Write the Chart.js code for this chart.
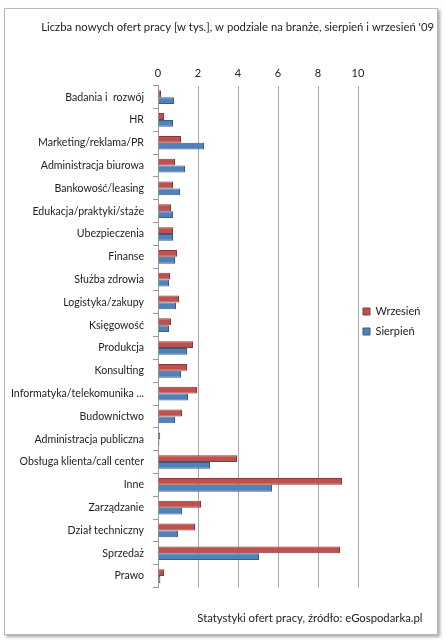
<!DOCTYPE html>
<html>
<head>
<meta charset="utf-8">
<script src="https://cdn.jsdelivr.net/npm/chart.js@4"></script>
<style>
  body { margin: 0; background: #fff; }
  .box {
    position: absolute; left: 4px; top: 8px; width: 432px; height: 625px;
    border: 1px solid #b8b8b8; background: #fff;
    box-shadow: 2px 2px 3px rgba(0,0,0,0.35);
  }
  canvas { display: block; }
</style>
</head>
<body>
<div class="box"><canvas id="chart" width="432" height="625"></canvas></div>
<script>
// categories (top to bottom)
const categories = [
  'Badania i  rozwój', 'HR', 'Marketing/reklama/PR', 'Administracja biurowa',
  'Bankowość/leasing', 'Edukacja/praktyki/staże', 'Ubezpieczenia', 'Finanse',
  'Służba zdrowia', 'Logistyka/zakupy', 'Księgowość', 'Produkcja', 'Konsulting',
  'Informatyka/telekomunika ...', 'Budownictwo', 'Administracja publiczna',
  'Obsługa klienta/call center', 'Inne', 'Zarządzanie', 'Dział techniczny',
  'Sprzedaż', 'Prawo'
];

// thousands of offers
const wrzesien = [0.15, 0.3, 1.15, 0.85, 0.75, 0.65, 0.75, 0.95, 0.6, 1.05, 0.65, 1.75, 1.45,
  1.95, 1.2, 0.1, 3.95, 9.2, 2.15, 1.85, 9.1, 0.3];
const sierpien = [0.8, 0.75, 2.3, 1.35, 1.1, 0.75, 0.75, 0.85, 0.55, 0.9, 0.55, 1.45, 1.15,
  1.5, 0.85, 0.07, 2.6, 5.7, 1.2, 1.0, 5.05, 0.12];

const xTicks = [0, 2, 4, 6, 8, 10];

const FONT = 'Lato, "DejaVu Sans", sans-serif';

// pull the legend a bit closer to the plot, like the original
const legendNudge = {
  id: 'legendNudge',
  afterLayout(chart) {
    const lg = chart.legend;
    if (!lg) return;
    lg.left -= 4;
    lg.right -= 4;
  }
};

new Chart(document.getElementById('chart'), {
  type: 'bar',
  data: {
    labels: categories,
    datasets: [
      {
        label: 'Wrzesień',
        data: wrzesien,
        backgroundColor: '#c0504d',
        borderColor: '#8c3836',
        borderWidth: 1,
        categoryPercentage: 0.6,
        barPercentage: 1.0
      },
      {
        label: 'Sierpień',
        data: sierpien,
        backgroundColor: '#4f81bd',
        borderColor: '#385d8a',
        borderWidth: 1,
        categoryPercentage: 0.6,
        barPercentage: 1.0
      }
    ]
  },
  plugins: [legendNudge],
  options: {
    indexAxis: 'y',
    responsive: false,
    animation: false,
    layout: { padding: { left: 0, right: 3, top: 0, bottom: 0 } },
    plugins: {
      title: {
        display: true,
        text: "Liczba nowych ofert pracy [w tys.], w podziale na branże, sierpień i wrzesień '09",
        align: 'end',
        color: '#222',
        font: { family: FONT, size: 11.3, weight: 'normal' },
        padding: { top: 12, bottom: 26 }
      },
      subtitle: {
        display: true,
        position: 'bottom',
        align: 'end',
        // trailing spaces keep the footer a little in from the right edge
        text: 'Statystyki ofert pracy, źródło: eGospodarka.pl    ',
        color: '#222',
        font: { family: FONT, size: 11.3 },
        padding: { top: 24, bottom: 9 }
      },
      legend: {
        position: 'right',
        maxWidth: 76,
        labels: {
          color: '#222',
          boxWidth: 7,
          boxHeight: 7,
          padding: 9,
          font: { family: FONT, size: 11 }
        }
      },
      tooltip: { enabled: false }
    },
    scales: {
      x: {
        position: 'top',
        min: 0,
        max: 10,
        afterBuildTicks: (scale) => { scale.ticks = xTicks.map(v => ({ value: v })); },
        grid: { color: '#a8a8a8', drawTicks: false },
        border: { display: false },
        ticks: {
          color: '#222',
          padding: 6,
          font: { family: FONT, size: 11 }
        }
      },
      y: {
        afterFit: (scale) => { scale.width = 153; },
        grid: {
          drawOnChartArea: false,
          offset: true,
          tickLength: 5,
          color: '#999'
        },
        border: { color: '#999' },
        ticks: {
          color: '#222',
          padding: 9,
          autoSkip: false,
          font: { family: FONT, size: 10.6 }
        }
      }
    }
  }
});
</script>
</body>
</html>
